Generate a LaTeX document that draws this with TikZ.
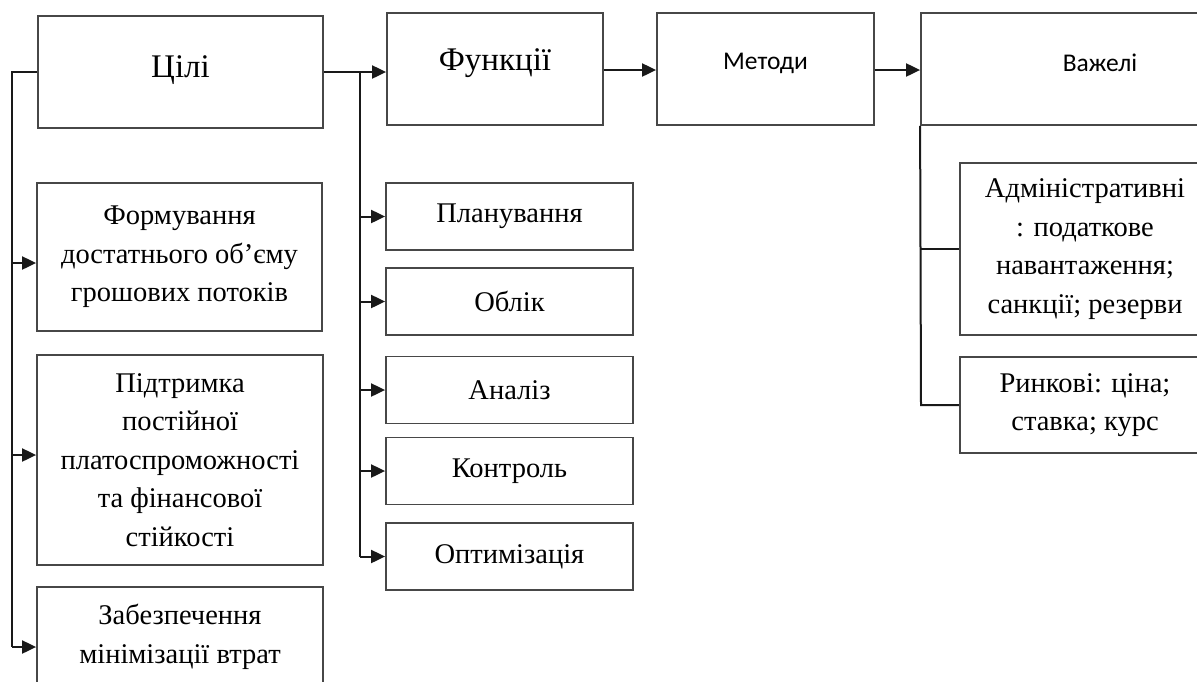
\documentclass[tikz,border=0pt]{standalone}
\usepackage{fontspec}
\setmainfont{Liberation Serif}
\newfontfamily\sansf{Carlito}
\usetikzlibrary{arrows.meta}
\begin{document}
\begin{tikzpicture}[x=1pt,y=-1pt,
  box/.style={draw=black!72,line width=1.8pt,inner sep=0pt,align=center},
  conn/.style={line width=2pt,draw=black!90},
  arr/.style={conn,-{Triangle[length=14pt,width=13pt]}},
  big/.style={font=\fontsize{33}{40}\selectfont},
  sans/.style={font=\sansf\fontsize{25.5}{30}\selectfont},
  txt/.style={font=\fontsize{28.5}{38.5}\selectfont,align=center}]
\useasboundingbox (0,0) rectangle (1197,681);
\clip (0,0) rectangle (1197,681);
% top row
\node[box,minimum width=285pt,minimum height=112pt] (cili) at (180.5,72) {};
\node[big] (ciliT) at (180.5,70) {Цілі};
\node[box,minimum width=216pt,minimum height=112pt] (funk) at (495,69) {};
\node[big] (funkT) at (495,63) {Функції};
\node[box,minimum width=217pt,minimum height=112pt] (met) at (765.5,69) {};
\node[sans] (metT) at (765.5,63) {Методи};
\node[box,minimum width=294pt,minimum height=112pt] (vaz) at (1068,69) {};
\node[sans] (vazT) at (1100,63) {Важелі};
% goals
\node[box,txt,minimum width=285pt,minimum height=148pt] (form) at (179.5,257) {Формування\\достатнього об’єму\\грошових потоків};
\node[box,txt,minimum width=286pt,minimum height=210pt] (pidt) at (180,460) {Підтримка\\постійної\\платоспроможності\\та фінансової\\стійкості};
\node[box,minimum width=286pt,minimum height=150pt] (zab) at (180,662) {};
\node[txt] (zabT) at (180,637) {Забезпечення\\мінімізації втрат};
% functions
\node[box,txt,minimum width=247pt,minimum height=67pt] (plan) at (509.5,216.5) {Планування};
\node[box,txt,minimum width=247pt,minimum height=67pt] (obl) at (509.5,301.5) {Облік};
\node[box,txt,minimum width=247pt,minimum height=67pt] (anal) at (509.5,390) {Аналіз};
\node[box,txt,minimum width=247pt,minimum height=67pt] (kontr) at (509.5,471) {Контроль};
\node[box,txt,minimum width=247pt,minimum height=67pt] (opt) at (509.5,556.5) {Оптимізація};
% levers
\node[box,txt,minimum width=250pt,minimum height=172pt] (adm) at (1085,249) {Адміністративні\\: податкове\\навантаження;\\санкції; резерви};
\node[box,txt,minimum width=250pt,minimum height=96pt] (rynk) at (1085,405) {Ринкові: ціна;\\ставка; курс};
% connectors
\coordinate (L) at (12,72);
\coordinate (a1) at (12,263);
\coordinate (a2) at (12,455);
\coordinate (a3) at (12,647);
\draw[conn] (cili.west) -- (L) -- (a3);
\draw[arr] (a1) -- (a1 -| form.west);
\draw[arr] (a2) -- (a2 -| pidt.west);
\draw[arr] (a3) -- (a3 -| zab.west);
\draw[arr] (cili.east) -- (cili.east -| funk.west);
\coordinate (F) at (360,72);
\coordinate (f5) at (360,556.5);
\draw[conn] (F) -- (f5);
\foreach \n in {plan,obl,anal,kontr,opt}{
  \draw[arr] (F |- \n.west) -- (\n.west);
}
\coordinate (m1) at (603,70);
\draw[arr] (funk.east |- m1) -- (met.west |- m1);
\draw[arr] (met.east |- m1) -- (vaz.west |- m1);
\coordinate (V) at (921,405);
\draw[conn] (vaz.south west) -- (V) -- (rynk.west);
\draw[conn] (vaz.south west |- adm.west) -- (adm.west);
\end{tikzpicture}
\end{document}
